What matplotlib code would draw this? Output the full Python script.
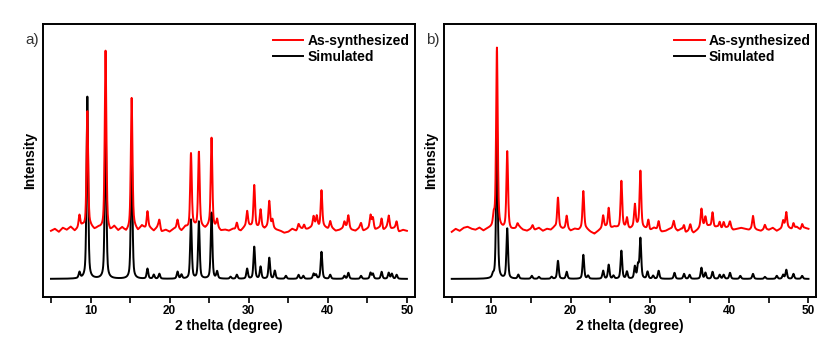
import numpy as np
import matplotlib.pyplot as plt

plt.rcParams['font.family'] = ['Liberation Sans', 'DejaVu Sans']

# peak lists: position (2theta), height
sim_a_pos = [8.6, 9.6, 11.9, 15.2, 17.2, 18.0, 18.7, 21.0, 21.5, 22.7, 23.7, 25.3, 26.0,
             27.7, 28.5, 29.8, 30.7, 31.5, 32.6, 33.3, 34.7, 36.3, 36.9, 38.2, 38.5,
             39.2, 40.3, 42.1, 42.6, 44.2, 45.4, 45.7, 46.8, 47.7, 48.1, 48.7]
sim_a_h = [6, 182, 165, 130, 10, 4, 5, 7, 4, 59, 57, 66, 7,
           2, 4, 10, 32, 12, 21, 8, 3, 4, 3, 5, 4,
           27, 4, 3, 6, 3, 6, 5, 7, 6, 5, 4]

exp_a_pos = [8.6, 9.6, 11.9, 15.2, 17.2, 18.7, 21.0, 22.7, 23.7, 25.3, 26.0, 28.5,
             29.8, 30.7, 31.5, 32.6, 33.0, 36.3, 37.0, 38.2, 38.6, 39.2, 40.3, 42.1,
             42.6, 44.2, 45.4, 45.7, 46.8, 47.7, 48.7]
exp_a_h = [12, 117, 178, 130, 17, 9, 8, 74, 75, 89, 8, 7,
           15, 42, 17, 25, 8, 5, 5, 10, 10, 37, 7, 6,
           12, 6, 12, 10, 11, 12, 8]

sim_b_pos = [10.2, 10.7, 12.0, 13.4, 15.1, 16.0, 17.6, 18.4, 19.5, 21.6, 22.2, 24.1,
             24.8, 25.4, 26.4, 27.1, 28.1, 28.5, 28.8, 29.7, 30.4, 31.1, 33.1, 34.3,
             35.0, 36.5, 37.0, 37.9, 38.8, 39.3, 40.1, 41.4, 43.0, 44.5, 46.0, 46.8,
             47.2, 48.1, 49.2]
sim_b_h = [3, 150, 50, 4, 3, 2, 2, 18, 7, 24, 3, 8,
           14, 3, 28, 7, 12, 13, 40, 7, 3, 8, 6, 5,
           4, 11, 6, 7, 4, 4, 6, 3, 5, 2, 3, 4,
           9, 5, 3]

exp_b_pos = [10.3, 10.7, 12.0, 13.3, 15.2, 18.4, 19.5, 21.6, 24.1, 24.8, 26.4, 27.1,
             28.1, 28.8, 29.8, 31.1, 33.0, 34.3, 35.1, 36.5, 37.0, 37.9, 38.8, 39.3,
             40.1, 43.0, 44.5, 46.8, 47.2, 48.1, 49.2]
exp_b_h = [10, 179, 76, 4, 4, 30, 12, 37, 12, 20, 46, 10,
           22, 56, 10, 9, 7, 6, 6, 17, 10, 15, 6, 6,
           6, 12, 4, 7, 15, 6, 5]

# background wiggle of the measured patterns, every 0.5 deg from 5 to 50
noise_x = np.arange(5, 50.01, 0.5)
noise_a = [-2, 0, -3, 1, -1, 2, -2, 1, 3, 0,
           2, -1, 1, 0, 0, -3, 2, -2, 1, -3,
           0, 2, -2, 3, 0, 1, -2, 2, -3, -1,
           -3, 0, 1, -2, 2, 0, 3, 1, 2, 0,
           3, 1, 1, -2, -1, -2, 0, -1, -2, 2,
           3, 2, 1, 2, 0, 3, 1, -1, -2, -4,
           -3, 0, -2, 1, -1, 0, 2, 3, 1, 2,
           0, 1, -2, -1, 1, 2, -1, -2, 1, -2,
           0, 2, -1, 1, -2, 2, 0, 1, -3, -1,
           -2]
noise_b = [-3, 0, -2, 1, 2, 0, -1, 1, -2, 0,
           1, 2, 1, 0, 1, -1, 0, 2, -1, -2,
           0, -1, 1, -2, 0, -1, 2, 1, 0, 1,
           -2, 0, -1, 1, 0, -3, -5, -2, 1, 2,
           0, 2, 1, 2, 1, 0, 2, 3, 1, 0,
           -2, 1, -1, -3, -2, 0, 1, -2, 0, -4,
           -1, -4, -1, 3, 2, 3, 1, 2, 0, 1,
           2, -1, 0, 1, 0, -1, 1, -1, -2, 0,
           -1, 1, -2, 0, 2, 1, -1, 2, -1, 1,
           0]

red_offset = 50
x = np.arange(5, 50.001, 0.02)


def pattern(pos, h, w=0.12, eta=0.5):
    y = np.zeros_like(x)
    for p, a in zip(pos, h):
        d = (x - p) / w
        y += a * (eta / (1 + d**2) + (1 - eta) * np.exp(-np.log(2) * d**2))
    return y


def panel(ax, tag, sim_pos, sim_h, exp_pos, exp_h, noise):
    y_sim = pattern(sim_pos, sim_h)
    y_exp = pattern(exp_pos, exp_h) + np.interp(x, noise_x, noise) + red_offset
    ax.plot(x, y_sim, color='black', lw=1.4, label='Simulated', zorder=2)
    ax.plot(x, y_exp, color='#ff0000', lw=1.4, label='As-synthesized', zorder=3)

    ax.set_xlim(4, 51)
    ax.set_ylim(-18, 255)
    ax.set_xticks([10, 20, 30, 40, 50])
    ax.set_xticks([5, 15, 25, 35, 45], minor=True)
    ax.tick_params(axis='x', which='both', direction='out', length=4, width=1.2,
                   labelsize=8.5, pad=2)
    for t in ax.get_xticklabels():
        t.set_fontweight('bold')
    ax.set_yticks([])
    for s in ax.spines.values():
        s.set_linewidth(1.4)
    ax.set_xlabel('2 thelta (degree)', fontsize=10, fontweight='bold', labelpad=1)
    ax.set_ylabel('Intensity', fontsize=10, fontweight='bold', labelpad=4)

    h, l = ax.get_legend_handles_labels()
    ax.legend(h[::-1], l[::-1], loc='upper right', frameon=False,
              prop={'weight': 'bold', 'size': 10}, handlelength=2.2,
              handletextpad=0.3, labelspacing=0.2, borderaxespad=0.0,
              bbox_to_anchor=(1.0, 0.985))
    ax.text(-0.012, 0.94, tag, transform=ax.transAxes, fontsize=11,
            color='#333333', ha='right', va='center')


fig = plt.figure(figsize=(8.28, 3.37), dpi=100)
ax_a = fig.add_axes([0.052, 0.119, 0.449, 0.810])
ax_b = fig.add_axes([0.536, 0.119, 0.450, 0.810])

panel(ax_a, 'a)', sim_a_pos, sim_a_h, exp_a_pos, exp_a_h, noise_a)
panel(ax_b, 'b)', sim_b_pos, sim_b_h, exp_b_pos, exp_b_h, noise_b)

fig.savefig('out.png', dpi=100)
